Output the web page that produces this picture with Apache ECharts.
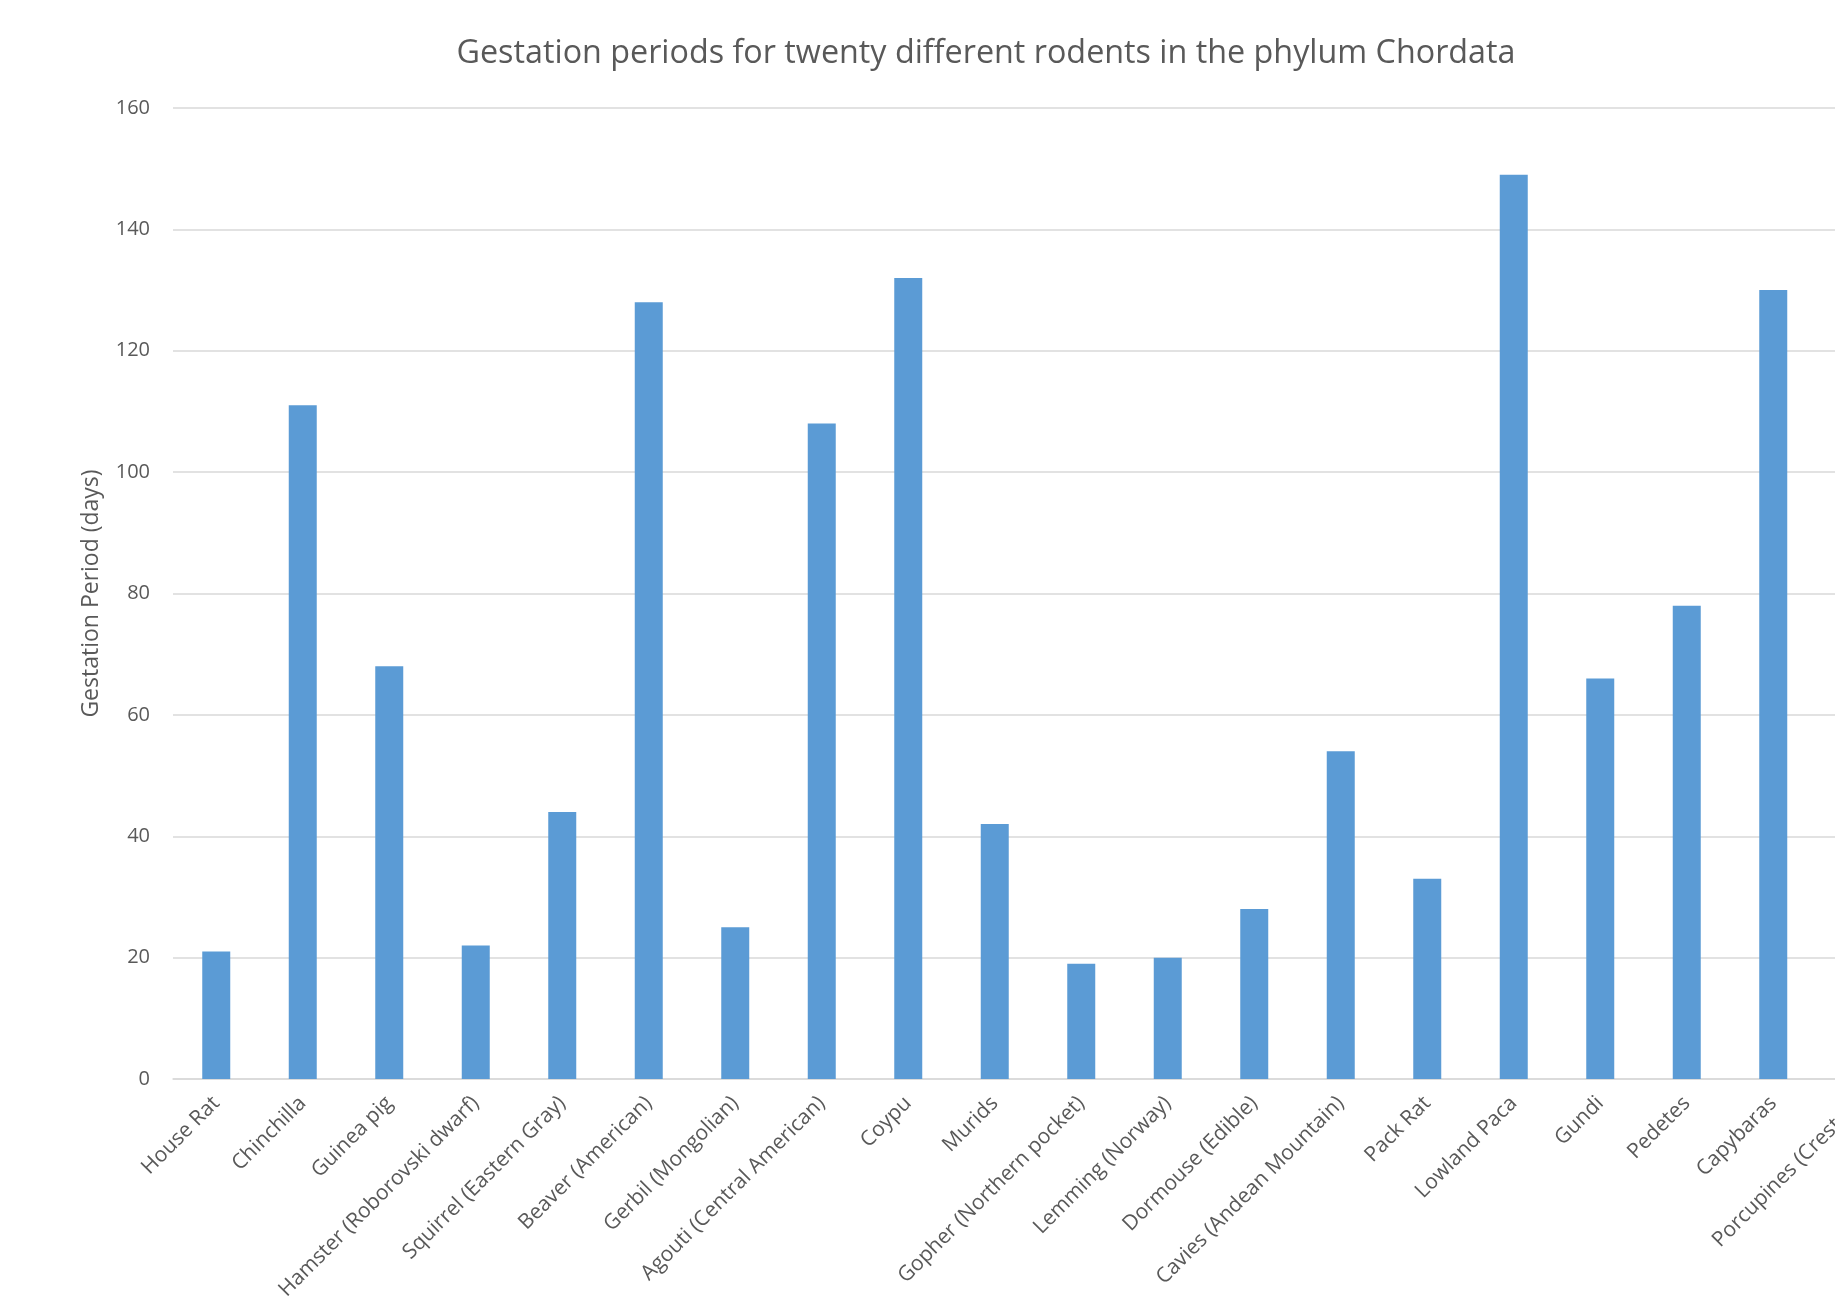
<!DOCTYPE html>
<html>
<head>
<meta charset="utf-8">
<script src="https://cdn.jsdelivr.net/npm/echarts@6/dist/echarts.min.js"></script>
<style>
html,body{margin:0;padding:0;overflow:hidden;background:#fff;width:1835px;height:1312px;}
#chart{width:1972px;height:1312px;}
</style>
</head>
<body>
<div id="chart"></div>
<script>
const categories = ["House Rat","Chinchilla","Guinea pig","Hamster (Roborovski dwarf)","Squirrel (Eastern Gray)","Beaver (American)","Gerbil (Mongolian)","Agouti (Central American)","Coypu","Murids","Gopher (Northern pocket)","Lemming (Norway)","Dormouse (Edible)","Cavies (Andean Mountain)","Pack Rat","Lowland Paca","Gundi","Pedetes","Capybaras","Porcupines (Crested)"];
const gestationDays = [21,111,68,22,44,128,25,108,132,42,19,20,28,54,33,149,66,78,130,112];
const yTicks = {min:0, max:160, interval:20};
const titleText = "Gestation periods for twenty different rodents in the phylum Chordata";
const yAxisName = "Gestation Period (days)";

const chart = echarts.init(document.getElementById('chart'), null, {renderer:'canvas'});
chart.setOption({
  animation:false,
  backgroundColor:'#ffffff',
  title:{
    text:titleText, left:'center', top:33,
    textStyle:{fontFamily:'Open Sans', fontSize:32.3, fontWeight:'normal', color:'#595959'}
  },
  grid:{left:173, right:69, top:108, bottom:233, containLabel:false},
  xAxis:{
    type:'category', data:categories,
    axisLine:{show:true, lineStyle:{color:'#d9d9d9', width:1.5}},
    axisTick:{show:false},
    axisLabel:{rotate:45, interval:0, margin:21, color:'#595959', fontFamily:'Open Sans', fontSize:21}
  },
  yAxis:{
    type:'value', min:yTicks.min, max:yTicks.max, interval:yTicks.interval,
    name:yAxisName, nameLocation:'middle', nameGap:70, nameRotate:90,
    nameTextStyle:{fontFamily:'Open Sans', fontSize:23, color:'#595959'},
    axisLine:{show:false}, axisTick:{show:false},
    splitLine:{lineStyle:{color:'#d9d9d9', width:1.5}},
    axisLabel:{margin:23, color:'#595959', fontFamily:'Open Sans', fontSize:20}
  },
  series:[{
    type:'bar', data:gestationDays, barWidth:28,
    itemStyle:{color:'#5b9bd5'}
  }]
});
</script>
</body>
</html>
